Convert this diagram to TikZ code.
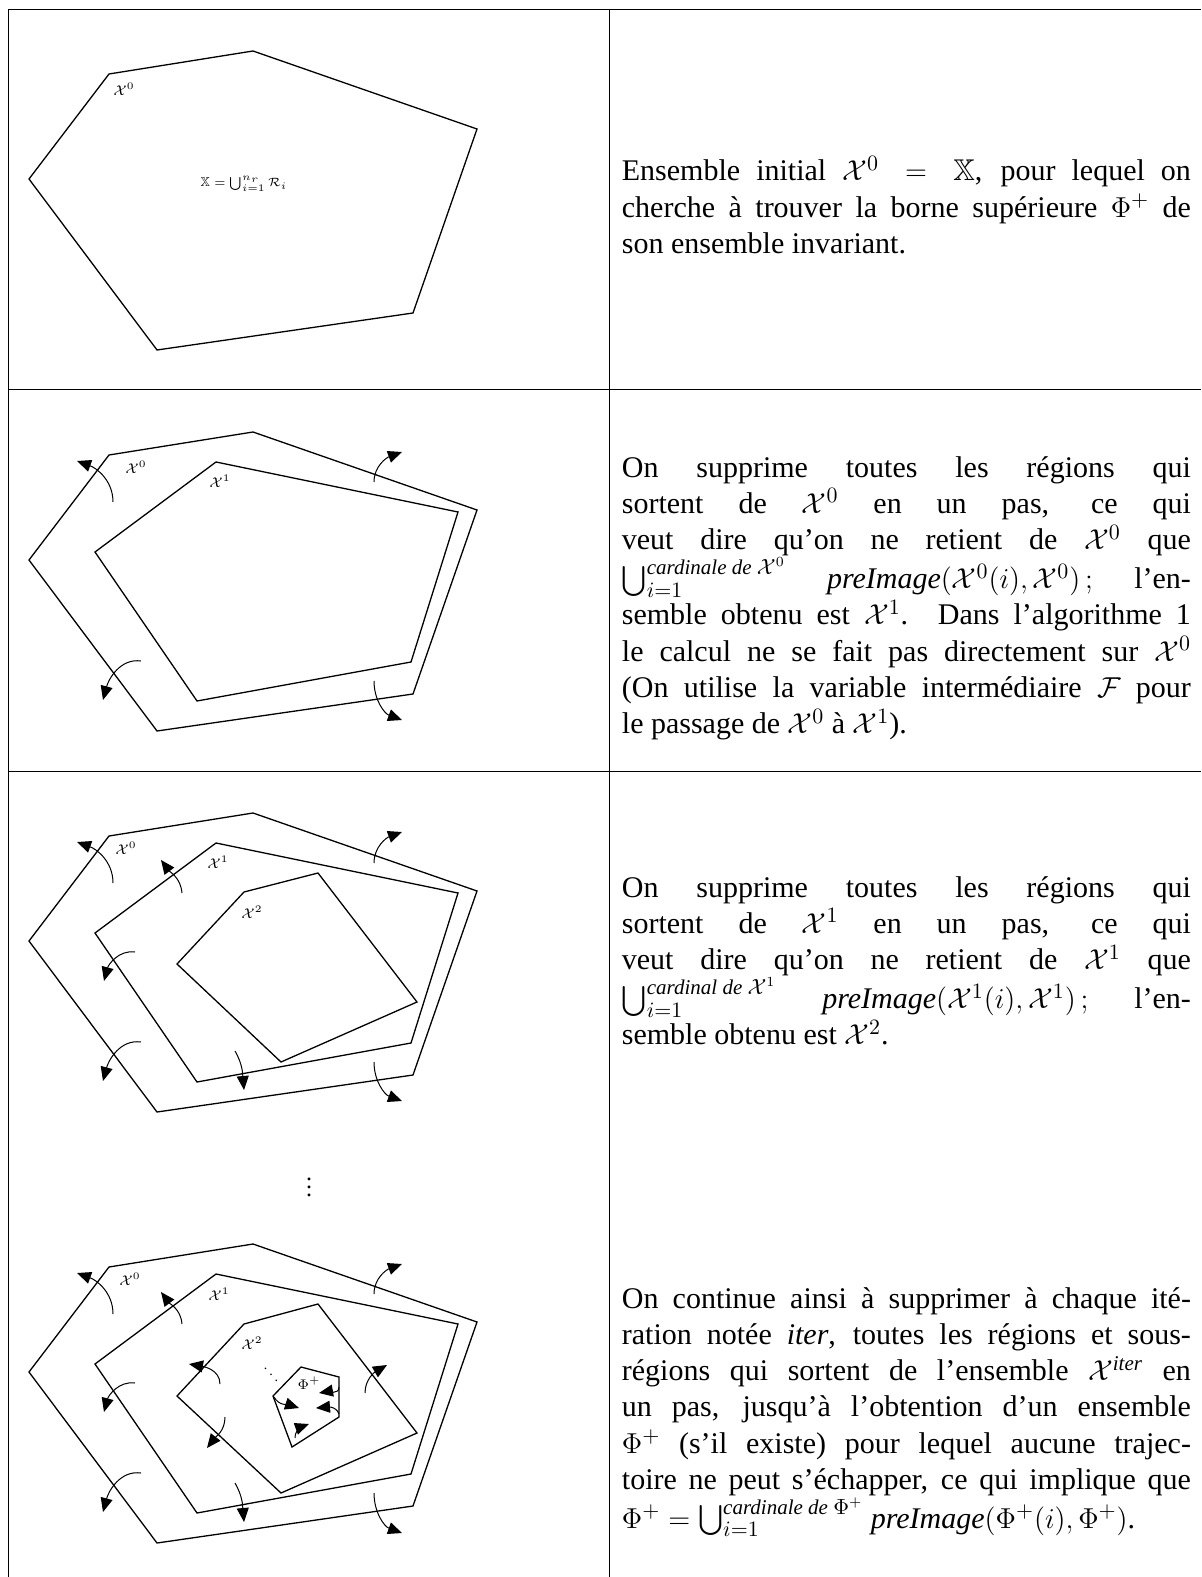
\documentclass[tikz,border=0pt]{standalone}
\usepackage{amsmath,amssymb}
\usepackage[no-math]{fontspec}
\setmainfont{Liberation Serif}
\usetikzlibrary{arrows.meta}

\tolerance=9999
\hyphenpenalty=10000

\tikzset{
  rule/.style={line width=0.5pt},
  contour/.style={line width=0.65pt, line join=miter},
  escape/.style={line width=0.5pt, -{Triangle[length=7pt,width=6pt]}},
  setlabel/.style={inner sep=0pt, font=\fontsize{7}{8}\selectfont},
  comment/.style={inner sep=0pt, anchor=base west, text width=10cm, align=justify,
    font=\fontsize{15}{18.125}\selectfont}
}

\begin{document}
\begin{tikzpicture}[x=0.5pt, y=-0.5pt]
    \useasboundingbox (0,0) rectangle (1201,1577);

    % table rules
    \draw[rule] (8,10) -- (1201,10);
    \draw[rule] (8,390) -- (1201,390);
    \draw[rule] (8,771) -- (1201,771);
    \draw[rule] (8,10) -- (8,1577);
    \draw[rule] (609,10) -- (609,1577);

    % initial set
    \draw[contour] (109,74) -- (253,51) -- (477,129) -- (413,313) -- (157,350) -- (29,179) -- cycle;
    \node[setlabel] (xzeroa) at (124,89) {$\mathcal{X}^0$};
    \node[inner sep=0pt, font=\fontsize{6.5}{8}\selectfont] (union) at (244,184) {$\mathbb{X}=\bigcup_{i=1}^{n_r}\mathcal{R}_i$};

    % first step
    \begin{scope}[shift={(0,381)}]
        \draw[contour] (109,74) -- (253,51) -- (477,129) -- (413,313) -- (157,350) -- (29,179) -- cycle;
        \draw[contour] (216,81) -- (458,131) -- (411,281) -- (197,320) -- (95,171) -- cycle;
        \node[setlabel] (xzerob) at (136,86) {$\mathcal{X}^0$};
        \node[setlabel] (xoneb) at (220,100) {$\mathcal{X}^1$};
        \draw[escape] (113,121) to[out=90,in=-20] (77,80);
        \draw[escape] (374,101) to[out=90,in=200] (402,71);
        \draw[escape] (141,280) to[out=172,in=75] (103,319);
        \draw[escape] (374,300) to[out=-90,in=160] (402,339);
    \end{scope}

    % second step
    \begin{scope}[shift={(0,762)}]
        \draw[contour] (109,74) -- (253,51) -- (477,129) -- (413,313) -- (157,350) -- (29,179) -- cycle;
        \draw[contour] (216,81) -- (458,131) -- (411,281) -- (197,320) -- (95,171) -- cycle;
        \draw[contour] (244,130) -- (318,111) -- (417,240) -- (281,300) -- (177,202) -- cycle;
        \node[setlabel] (xzeroc) at (126,86) {$\mathcal{X}^0$};
        \node[setlabel] (xonec) at (218,100) {$\mathcal{X}^1$};
        \node[setlabel] (xtwoc) at (252,150) {$\mathcal{X}^2$};
        \draw[escape] (113,121) to[out=90,in=-20] (77,80);
        \draw[escape] (182,131) to[out=95,in=-53] (161,98);
        \draw[escape] (374,101) to[out=90,in=200] (402,70);
        \draw[escape] (135,190) to[out=172,in=75] (104,219);
        \draw[escape] (141,280) to[out=172,in=75] (103,319);
        \draw[escape] (235,289) to[out=-60,in=95] (244,328);
        \draw[escape] (374,300) to[out=-90,in=160] (402,339);
    \end{scope}

    \node[inner sep=0pt, font=\fontsize{12}{14}\selectfont] (more) at (309,1181) {$\vdots$};

    % last step, down to the invariant set
    \begin{scope}[shift={(0,1193)}]
        \draw[contour] (109,74) -- (253,51) -- (477,129) -- (413,313) -- (157,350) -- (29,179) -- cycle;
        \draw[contour] (216,81) -- (458,131) -- (411,281) -- (197,320) -- (95,171) -- cycle;
        \draw[contour] (244,131) -- (318,111) -- (417,240) -- (281,300) -- (177,203) -- cycle;
        \draw[contour] (301,174) -- (339,184) -- (339,224) -- (292,254) -- (273,203) -- cycle;
        \node[setlabel] (xzerod) at (130,86) {$\mathcal{X}^0$};
        \node[setlabel] (xoned) at (219,101) {$\mathcal{X}^1$};
        \node[setlabel] (xtwod) at (252,150) {$\mathcal{X}^2$};
        \node[setlabel] (phi) at (309,190) {$\Phi^+$};
        \node[setlabel] (skip) at (271,176) {$\ddots$};
        \draw[escape] (113,121) to[out=90,in=-20] (77,80);
        \draw[escape] (182,131) to[out=95,in=-53] (161,99);
        \draw[escape] (374,101) to[out=90,in=200] (402,71);
        \draw[escape] (135,190) to[out=172,in=75] (104,219);
        \draw[escape] (141,280) to[out=172,in=75] (103,319);
        \draw[escape] (235,290) to[out=-60,in=95] (244,329);
        \draw[escape] (374,300) to[out=-90,in=160] (402,340);
        \draw[escape] (220,191) to[out=90,in=-10] (189,171);
        \draw[escape] (225,224) to[out=-90,in=52] (207,255);
        \draw[escape] (365,200) to[out=90,in=210] (387,172);
        % nothing leaves Phi+
        \draw[escape] (339,194) to[out=-90,in=10] (319,200);
        \draw[escape] (274,204) to[out=-60,in=162] (299,215);
        \draw[escape] (339,221) to[out=110,in=5] (316,215);
        \draw[escape] (295,245) to[out=90,in=200] (309,231);
    \end{scope}

    % right column
    \node[comment] (txtinit) at (621.5,181) {Ensemble initial $\mathcal{X}^0=\mathbb{X}$, pour lequel on\linebreak
        cherche à trouver la borne supérieure $\Phi^+$ de\linebreak
        son ensemble invariant.};
    \node[comment] (txtone) at (621.5,477) {On supprime toutes les régions qui\linebreak
        sortent de $\mathcal{X}^0$ en un pas, ce qui\linebreak
        veut dire qu'on ne retient de $\mathcal{X}^0$ que\linebreak
        $\bigcup_{i=1}^{\text{\itshape cardinale de }\mathcal{X}^0}$ \textit{preImage}$(\mathcal{X}^0(i),\mathcal{X}^0)\,;$ l'en-\linebreak
        semble obtenu est $\mathcal{X}^1$. Dans l'algorithme 1\linebreak
        le calcul ne se fait pas directement sur $\mathcal{X}^0$\linebreak
        (On utilise la variable intermédiaire $\mathcal{F}$ pour\linebreak
        le passage de $\mathcal{X}^0$ à $\mathcal{X}^1$).};
    \node[comment] (txttwo) at (621.5,897) {On supprime toutes les régions qui\linebreak
        sortent de $\mathcal{X}^1$ en un pas, ce qui\linebreak
        veut dire qu'on ne retient de $\mathcal{X}^1$ que\linebreak
        $\bigcup_{i=1}^{\text{\itshape cardinal de }\mathcal{X}^1}$ \textit{preImage}$(\mathcal{X}^1(i),\mathcal{X}^1)\,;$ l'en-\linebreak
        semble obtenu est $\mathcal{X}^2$.};
    \node[comment] (txtiter) at (621.5,1308) {On continue ainsi à supprimer à chaque ité-\linebreak
        ration notée \textit{iter}, toutes les régions et sous-\linebreak
        régions qui sortent de l'ensemble $\mathcal{X}^{\textit{iter}}$ en\linebreak
        un pas, jusqu'à l'obtention d'un ensemble\linebreak
        $\Phi^+$ (s'il existe) pour lequel aucune trajec-\linebreak
        toire ne peut s'échapper, ce qui implique que\linebreak
        $\Phi^+=\bigcup_{i=1}^{\text{\itshape cardinale de }\Phi^+}$ \textit{preImage}$(\Phi^+(i),\Phi^+)$.};
\end{tikzpicture}
\end{document}
